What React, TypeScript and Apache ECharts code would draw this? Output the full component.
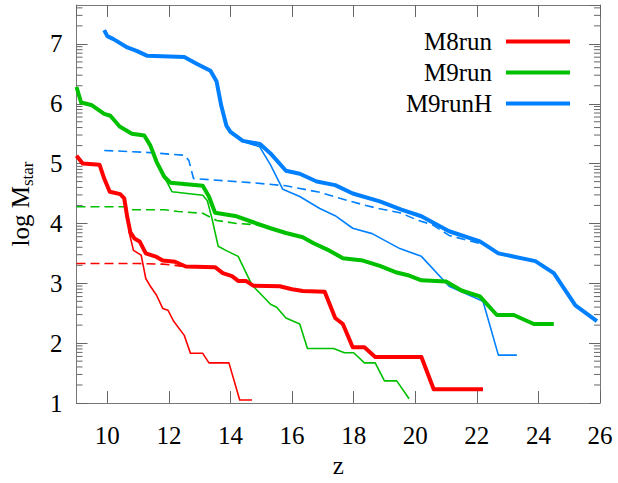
import React, { useEffect, useRef } from 'react';
import * as echarts from 'echarts';

const FONT = 'Liberation Serif';
const legendNames = ['M8run', 'M9run', 'M9runH'];
const colors = ['#ff0000', '#00c000', '#0080ff'];

const m8runThick: [number, number][] = [
  [9, 5.13], [9.2, 5.0], [9.75, 4.98], [9.9, 4.75], [10.08, 4.53], [10.42, 4.49], [10.55, 4.42],
  [10.65, 4.1], [10.75, 3.85], [10.88, 3.75], [11.05, 3.7], [11.25, 3.5], [11.6, 3.44], [11.8, 3.38],
  [12.2, 3.36], [12.55, 3.28], [13.5, 3.27], [13.75, 3.17], [14.05, 3.12], [14.25, 3.04], [14.5, 3.04],
  [14.74, 2.96], [15.6, 2.95], [16.0, 2.9], [16.35, 2.87], [17.06, 2.86], [17.4, 2.42], [17.65, 2.32],
  [17.97, 1.93], [18.35, 1.93], [18.7, 1.77], [20.2, 1.77], [20.6, 1.23], [22.2, 1.23],
];
const m8runThin: [number, number][] = [
  [10.7, 3.87], [10.85, 3.55], [11.1, 3.47], [11.25, 3.08], [11.4, 2.95], [11.6, 2.8], [11.8, 2.58],
  [11.97, 2.55], [12.15, 2.37], [12.5, 2.13], [12.7, 1.83], [13.1, 1.83], [13.3, 1.67], [13.95, 1.67],
  [14.3, 1.05], [14.7, 1.05],
];
const m8runDashed: [number, number][] = [
  [9, 3.33], [11, 3.33], [11.8, 3.32], [12.2, 3.3], [12.5, 3.28],
];

const m9runThick: [number, number][] = [
  [9, 6.28], [9.15, 6.02], [9.48, 5.98], [9.9, 5.83], [10.1, 5.8], [10.4, 5.62], [10.8, 5.5],
  [11.2, 5.47], [11.4, 5.3], [11.6, 5.03], [11.85, 4.78], [12.05, 4.68], [13.1, 4.63], [13.3, 4.45],
  [13.5, 4.18], [14.2, 4.12], [14.74, 4.02], [15.3, 3.92], [15.8, 3.84], [16.35, 3.77], [16.7, 3.67],
  [17.2, 3.55], [17.65, 3.42], [18.3, 3.38], [18.85, 3.29], [19.4, 3.18], [19.8, 3.13], [20.2, 3.05],
  [21.0, 3.03], [21.5, 2.88], [22.1, 2.78], [22.65, 2.47], [23.2, 2.47], [23.85, 2.32], [24.5, 2.32],
];
const m9runThin: [number, number][] = [
  [11.85, 4.78], [12.1, 4.53], [13.1, 4.47], [13.25, 4.38], [13.4, 4.08], [13.6, 3.62], [13.85, 3.55],
  [14.25, 3.45], [14.7, 2.97], [15.06, 2.78], [15.3, 2.65], [15.5, 2.6], [15.8, 2.42], [16.25, 2.32],
  [16.5, 1.91], [17.35, 1.91], [17.7, 1.84], [18.0, 1.84], [18.35, 1.67], [18.7, 1.67], [19.0, 1.37],
  [19.4, 1.37], [19.8, 1.07],
];
const m9runDashed: [number, number][] = [
  [9, 4.28], [10.55, 4.28], [10.8, 4.23], [11.85, 4.23], [12.3, 4.2], [13.1, 4.17], [13.55, 4.05],
  [14.2, 4.0], [14.8, 3.98], [15.0, 3.96],
];

const m9runHThick: [number, number][] = [
  [9.9, 7.23], [10.0, 7.13], [10.2, 7.08], [10.65, 6.94], [10.97, 6.88], [11.3, 6.8], [12.5, 6.78],
  [12.9, 6.67], [13.35, 6.55], [13.55, 6.37], [13.7, 5.97], [13.87, 5.63], [14.0, 5.53], [14.4, 5.38],
  [14.95, 5.33], [15.3, 5.17], [15.8, 4.88], [16.25, 4.83], [16.8, 4.7], [17.4, 4.64], [17.97, 4.5],
  [18.85, 4.37], [19.55, 4.23], [20.2, 4.12], [21.1, 3.87], [22.1, 3.7], [22.7, 3.5], [23.9, 3.37],
  [24.5, 3.17], [25.2, 2.63], [25.9, 2.37],
];
const m9runHThin: [number, number][] = [
  [13.95, 5.53], [14.4, 5.37], [14.95, 5.28], [15.3, 4.98], [15.7, 4.57], [16.25, 4.45], [16.9, 4.25],
  [17.4, 4.13], [17.97, 3.92], [18.6, 3.83], [19.5, 3.58], [20.2, 3.45], [21.1, 2.95], [22.2, 2.7],
  [22.7, 1.8], [23.3, 1.8],
];
const m9runHDashed: [number, number][] = [
  [9.9, 5.22], [11.2, 5.19], [12.5, 5.14], [12.65, 5.05], [12.8, 4.75], [13.35, 4.73], [14.7, 4.68],
  [15.8, 4.63], [16.9, 4.52], [17.55, 4.42], [18.4, 4.3], [18.8, 4.25], [19.5, 4.18], [20.1, 4.05],
  [20.55, 3.98], [21.1, 3.8], [22.2, 3.65],
];

// log-scale minor tick values (n + log10(k))
const minorTickValues: number[] = [];
for (let n = 1; n <= 7; n++) {
  for (let k = 2; k <= 9; k++) {
    const v = n + Math.log10(k);
    if (v < 7.65) minorTickValues.push(v);
  }
}

function lineSeries(name: string, data: [number, number][], color: string, width: number, dashed = false, z = 2) {
  return {
    type: 'line',
    name,
    data,
    symbol: 'none',
    showSymbol: false,
    silent: true,
    z,
    itemStyle: { color },
    lineStyle: { color, width, type: dashed ? [9, 5] : 'solid', cap: 'butt', join: 'round' },
  };
}

const axisCommonX = {
  type: 'value',
  min: 9,
  max: 26,
  splitNumber: 8,
  minInterval: 2,
  maxInterval: 2,
  splitLine: { show: false },
  axisLine: { show: true, onZero: false, lineStyle: { color: '#777', width: 1 } },
  axisTick: { show: true, inside: true, length: 12, lineStyle: { color: '#666', width: 1 } },
};
const axisCommonY = {
  type: 'value',
  min: 1,
  max: 7.65,
  interval: 1,
  splitLine: { show: false },
  axisLine: { show: true, onZero: false, lineStyle: { color: '#777', width: 1 } },
  axisTick: { show: true, inside: true, length: 11, lineStyle: { color: '#666', width: 1 } },
};

const option = {
  animation: false,
  textStyle: { fontFamily: FONT },
  grid: { left: 72, right: 18, top: 5, bottom: 78 },
  legend: {
    data: legendNames.map((n, i) => ({ name: n, itemStyle: { color: colors[i] } })),
    orient: 'vertical',
    align: 'right',
    right: 43,
    top: 24,
    itemWidth: 64,
    itemHeight: 4,
    itemGap: 6,
    icon: 'rect',
    selectedMode: false,
    formatter: '{n|{name}}',
    textStyle: {
      fontFamily: FONT,
      fontSize: 25,
      color: '#000',
      rich: { n: { fontFamily: FONT, fontSize: 25, color: '#000', padding: [0, 9, 0, 0] } },
    },
  },
  xAxis: [
    {
      ...axisCommonX,
      position: 'bottom',
      name: 'z',
      nameLocation: 'middle',
      nameGap: 50,
      nameTextStyle: { fontFamily: FONT, fontSize: 25, color: '#000' },
      axisLabel: { fontFamily: FONT, fontSize: 25, color: '#000', margin: 20, showMinLabel: false, showMaxLabel: true },
    },
    { ...axisCommonX, position: 'top', axisLabel: { show: false } },
  ],
  yAxis: [
    {
      ...axisCommonY,
      position: 'left',
      name: '{a|log M}{s|star}',
      nameLocation: 'middle',
      nameGap: 41,
      nameTextStyle: {
        fontFamily: FONT,
        color: '#000',
        rich: {
          a: { fontFamily: FONT, fontSize: 25, lineHeight: 30, verticalAlign: 'middle', color: '#000' },
          s: { fontFamily: FONT, fontSize: 17, lineHeight: 17, verticalAlign: 'bottom', color: '#000' },
        },
      },
      axisLabel: { fontFamily: FONT, fontSize: 25, color: '#000', margin: 14, showMaxLabel: false },
    },
    { ...axisCommonY, position: 'right', axisLabel: { show: false } },
  ],
  series: [
    {
      type: 'custom',
      name: 'minorTicks',
      silent: true,
      xAxisIndex: 0,
      yAxisIndex: 0,
      data: minorTickValues.map((v) => [9, v]),
      renderItem: (params: any, api: any) => {
        const pt = api.coord([api.value(0), api.value(1)]);
        const cs = params.coordSys;
        const style = { stroke: '#666', lineWidth: 1 };
        return {
          type: 'group',
          children: [
            { type: 'line', shape: { x1: cs.x, y1: pt[1], x2: cs.x + 6, y2: pt[1] }, style },
            { type: 'line', shape: { x1: cs.x + cs.width - 6, y1: pt[1], x2: cs.x + cs.width, y2: pt[1] }, style },
          ],
        };
      },
    },
    lineSeries('M8run-dashed', m8runDashed, colors[0], 1.6, true),
    lineSeries('M9run-dashed', m9runDashed, colors[1], 1.6, true),
    lineSeries('M9runH-dashed', m9runHDashed, colors[2], 1.6, true),
    lineSeries('M8run-thin', m8runThin, colors[0], 1.6),
    lineSeries('M9run-thin', m9runThin, colors[1], 1.6),
    lineSeries('M9runH-thin', m9runHThin, colors[2], 1.6),
    lineSeries('M8run', m8runThick, colors[0], 4, false, 3),
    lineSeries('M9run', m9runThick, colors[1], 4, false, 3),
    lineSeries('M9runH', m9runHThick, colors[2], 4, false, 3),
  ],
};

export default function App() {
  const ref = useRef<HTMLDivElement>(null);
  useEffect(() => {
    const chart = echarts.init(ref.current as HTMLDivElement, null, { renderer: 'svg' });
    chart.setOption(option as any);
    return () => chart.dispose();
  }, []);
  return <div ref={ref} style={{ position: 'absolute', left: 0, top: 0, width: 618, height: 483 }} />;
}
